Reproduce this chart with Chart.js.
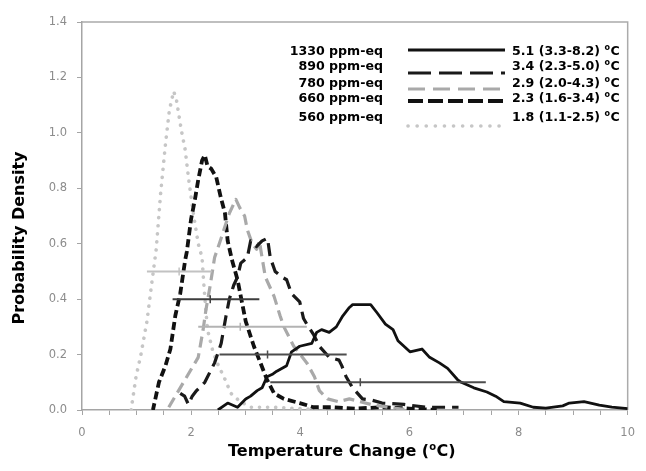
<!DOCTYPE html>
<html>
<head>
<meta charset="utf-8">
<script src="https://cdn.jsdelivr.net/npm/chart.js@4.4.1/dist/chart.umd.min.js"></script>
<style>
  body { margin: 0; background: #fff; }
  #wrap { width: 646px; height: 471px; }
</style>
</head>
<body>
<div id="wrap"><canvas id="chart" width="646" height="471"></canvas></div>
<script>
// legend text
const seriesNames = ['1330 ppm-eq', '890 ppm-eq', '780 ppm-eq', '660 ppm-eq', '560 ppm-eq'];
const seriesStats = ['5.1 (3.3-8.2)', '3.4 (2.3-5.0)', '2.9 (2.0-4.3)', '2.3 (1.6-3.4)', '1.8 (1.1-2.5)'];

// curves (temperature, density)
const temp1330 = [2.49, 2.67, 2.85, 3.0, 3.09, 3.21, 3.3, 3.39, 3.5, 3.57, 3.75, 3.84, 3.99, 4.21, 4.3, 4.39, 4.53, 4.66, 4.78, 4.9, 4.96, 5.1, 5.29, 5.41, 5.56, 5.7, 5.79, 6.01, 6.23, 6.37, 6.55, 6.7, 6.88, 6.95, 7.18, 7.42, 7.58, 7.73, 8.03, 8.27, 8.5, 8.81, 8.93, 9.2, 9.48, 9.71, 10.0];
const dens1330 = [0.0, 0.025, 0.01, 0.04, 0.05, 0.07, 0.08, 0.12, 0.13, 0.14, 0.16, 0.21, 0.23, 0.24, 0.28, 0.29, 0.28, 0.30, 0.34, 0.37, 0.38, 0.38, 0.38, 0.35, 0.31, 0.29, 0.25, 0.21, 0.22, 0.19, 0.17, 0.15, 0.11, 0.10, 0.08, 0.065, 0.05, 0.03, 0.025, 0.01, 0.007, 0.015, 0.025, 0.03, 0.018, 0.01, 0.005];

const temp890 = [1.8, 1.88, 1.95, 2.02, 2.1, 2.25, 2.43, 2.55, 2.64, 2.7, 2.78, 2.85, 2.91, 3.03, 3.09, 3.2, 3.3, 3.4, 3.45, 3.54, 3.66, 3.75, 3.84, 3.99, 4.06, 4.12, 4.25, 4.35, 4.53, 4.71, 4.76, 4.84, 4.96, 5.14, 5.32, 5.5, 5.9, 6.3, 6.9];
const dens890 = [0.06, 0.05, 0.02, 0.05, 0.07, 0.1, 0.17, 0.24, 0.34, 0.40, 0.45, 0.48, 0.53, 0.55, 0.61, 0.59, 0.61, 0.62, 0.55, 0.50, 0.48, 0.47, 0.42, 0.39, 0.33, 0.31, 0.27, 0.23, 0.19, 0.18, 0.16, 0.12, 0.08, 0.04, 0.035, 0.025, 0.02, 0.01, 0.01];

const temp780 = [1.59, 1.77, 1.95, 2.13, 2.22, 2.27, 2.35, 2.43, 2.55, 2.7, 2.82, 2.89, 2.98, 3.03, 3.12, 3.2, 3.25, 3.3, 3.36, 3.52, 3.63, 3.7, 3.88, 4.12, 4.26, 4.35, 4.5, 4.7, 4.9, 5.1, 5.3, 5.6, 6.0];
const dens780 = [0.01, 0.07, 0.13, 0.19, 0.29, 0.36, 0.45, 0.55, 0.62, 0.71, 0.76, 0.73, 0.70, 0.65, 0.60, 0.58, 0.61, 0.55, 0.48, 0.41, 0.34, 0.30, 0.23, 0.17, 0.12, 0.07, 0.04, 0.03, 0.04, 0.03, 0.02, 0.01, 0.0];

const temp660 = [1.28, 1.3, 1.41, 1.53, 1.62, 1.71, 1.8, 1.89, 1.92, 2.0, 2.07, 2.13, 2.2, 2.25, 2.3, 2.37, 2.46, 2.54, 2.62, 2.67, 2.75, 2.85, 3.0, 3.15, 3.27, 3.39, 3.52, 3.7, 3.99, 4.24, 4.6, 5.0, 5.5, 6.0, 6.5];
const dens660 = [0.0, 0.0, 0.1, 0.16, 0.22, 0.34, 0.42, 0.54, 0.57, 0.69, 0.76, 0.83, 0.9, 0.92, 0.88, 0.87, 0.84, 0.77, 0.71, 0.61, 0.54, 0.47, 0.32, 0.23, 0.17, 0.11, 0.06, 0.04, 0.025, 0.01, 0.01, 0.005, 0.01, 0.005, 0.0];

const temp560 = [0.9, 0.99, 1.08, 1.19, 1.28, 1.36, 1.44, 1.53, 1.6, 1.68, 1.73, 1.82, 1.89, 1.95, 2.04, 2.13, 2.2, 2.23, 2.27, 2.3, 2.4, 2.5, 2.6, 2.73, 2.9, 3.1, 3.5, 4.0, 4.5];
const dens560 = [0.0, 0.12, 0.2, 0.32, 0.46, 0.58, 0.78, 0.96, 1.08, 1.15, 1.12, 1.01, 0.94, 0.84, 0.71, 0.60, 0.55, 0.46, 0.36, 0.29, 0.21, 0.16, 0.12, 0.06, 0.03, 0.01, 0.01, 0.005, 0.0];

// horizontal range bars (same order as the legend)
const barLevel = [0.1, 0.2, 0.3, 0.4, 0.5];
const barLow = [3.45, 2.52, 2.13, 1.66, 1.19];
const barMid = [5.1, 3.4, 2.9, 2.35, 1.78];
const barHigh = [7.4, 4.85, 4.12, 3.25, 2.38];

const temps = [temp1330, temp890, temp780, temp660, temp560];
const dens = [dens1330, dens890, dens780, dens660, dens560];

// looks
const lineColor = ['#111111', '#1a1a1a', '#a9a9a9', '#111111', '#c6c6c6'];
const lineWidth = [2.8, 3.2, 3.2, 3.8, 3.6];
const lineDash = [[], [13, 7], [11, 6], [8, 4], [0.1, 8]];
const legendDash = [[], [23, 8], [17, 8], [15, 5], [0.1, 9]];
const barColor = ['#4d4d4d', '#4d4d4d', '#b3b3b3', '#3d3d3d', '#c2c2c2'];

const toPoints = (xs, ys) => xs.map((x, i) => ({ x: x, y: ys[i] }));

const datasets = [];
barLevel.forEach((lvl, i) => {
    datasets.push({
        label: 'bar' + i,
        data: [{ x: barLow[i], y: lvl }, { x: barMid[i], y: lvl }, { x: barHigh[i], y: lvl }],
        borderColor: barColor[i],
        borderWidth: 2,
        pointStyle: 'line',
        pointRotation: 90,
        pointRadius: [0, 4, 0],
        pointBorderWidth: 1.5,
        pointBorderColor: barColor[i],
        tension: 0
    });
});
temps.forEach((xs, i) => {
    datasets.push({
        label: seriesNames[i],
        data: toPoints(xs, dens[i]),
        borderColor: lineColor[i],
        borderWidth: lineWidth[i],
        borderDash: lineDash[i],
        borderCapStyle: i === 4 ? 'round' : 'butt',
        borderJoinStyle: 'round',
        pointRadius: 0,
        tension: 0,
        fill: false
    });
});

function drawDegree(ctx, x, y, size) {
    // small raised "o" then "C"
    ctx.font = 'bold ' + Math.round(size * 0.62) + 'px "DejaVu Sans"';
    ctx.fillText('o', x, y - size * 0.3);
    const w = ctx.measureText('o').width;
    ctx.font = 'bold ' + size + 'px "DejaVu Sans"';
    ctx.fillText('C', x + w + 0.5, y);
    return w + 0.5 + ctx.measureText('C').width;
}

const decor = {
    id: 'decor',
    beforeDatasetsDraw(chart) {
        const { ctx, chartArea: a } = chart;
        ctx.save();
        ctx.strokeStyle = '#ababab';
        ctx.lineWidth = 1.5;
        ctx.beginPath();
        ctx.moveTo(a.left, a.top);
        ctx.lineTo(a.right, a.top);
        ctx.lineTo(a.right, a.bottom);
        ctx.stroke();
        ctx.restore();
    },
    afterDraw(chart) {
        const ctx = chart.ctx;
        ctx.save();
        ctx.fillStyle = '#000';
        ctx.textBaseline = 'middle';

        // legend
        const fs = 12.6;
        const textY = [51.5, 66.7, 83.3, 99, 118];
        const sampleY = [50, 73, 89, 101, 126];
        seriesNames.forEach((name, i) => {
            ctx.font = 'bold ' + fs + 'px "DejaVu Sans"';
            ctx.textAlign = 'right';
            ctx.fillText(name, 383, textY[i]);
            ctx.textAlign = 'left';
            const t = seriesStats[i] + ' ';
            ctx.fillText(t, 512, textY[i]);
            drawDegree(ctx, 512 + ctx.measureText(t).width, textY[i], fs);

            ctx.save();
            ctx.strokeStyle = lineColor[i];
            ctx.lineWidth = lineWidth[i];
            ctx.setLineDash(legendDash[i]);
            ctx.lineCap = i === 4 ? 'round' : 'butt';
            ctx.beginPath();
            ctx.moveTo(408, sampleY[i]);
            ctx.lineTo(505, sampleY[i]);
            ctx.stroke();
            ctx.restore();
        });

        // axis titles
        ctx.textAlign = 'left';
        ctx.font = 'bold 16px "DejaVu Sans"';
        const xt = 'Temperature Change (';
        const xw = ctx.measureText(xt).width;
        const x0 = 228;
        ctx.fillText(xt, x0, 452);
        const dw = drawDegree(ctx, x0 + xw, 452, 16);
        ctx.font = 'bold 16px "DejaVu Sans"';
        ctx.fillText(')', x0 + xw + dw, 452);

        ctx.translate(20, 238);
        ctx.rotate(-Math.PI / 2);
        ctx.textAlign = 'center';
        ctx.fillText('Probability Density', 0, 0);
        ctx.restore();
    }
};

const tickFont = { family: 'DejaVu Sans', size: 11.5 };

new Chart(document.getElementById('chart'), {
    type: 'line',
    data: { datasets: datasets },
    options: {
        responsive: false,
        animation: false,
        layout: { padding: { top: 22, right: 10, left: 0, bottom: 0 } },
        plugins: { legend: { display: false }, tooltip: { enabled: false } },
        scales: {
            x: {
                type: 'linear',
                min: 0,
                max: 10,
                afterFit: s => { s.height = 61; },
                border: { color: '#a5a5a5', width: 1.5 },
                grid: { drawOnChartArea: false, tickLength: 5, color: '#a5a5a5' },
                ticks: {
                    stepSize: 0.5,
                    autoSkip: false,
                    maxRotation: 0,
                    padding: 11,
                    color: '#8c8c8c',
                    font: tickFont,
                    callback: v => Math.abs(v / 2 - Math.round(v / 2)) < 1e-6 ? String(Math.round(v)) : ''
                }
            },
            y: {
                min: 0,
                max: 1.4,
                afterFit: s => { s.width = 82; },
                border: { color: '#a5a5a5', width: 1.5 },
                grid: { drawOnChartArea: false, tickLength: 5, color: '#a5a5a5' },
                ticks: {
                    stepSize: 0.2,
                    padding: 10,
                    color: '#8c8c8c',
                    font: tickFont,
                    callback: v => v.toFixed(1)
                }
            }
        }
    },
    plugins: [decor]
});
</script>
</body>
</html>
